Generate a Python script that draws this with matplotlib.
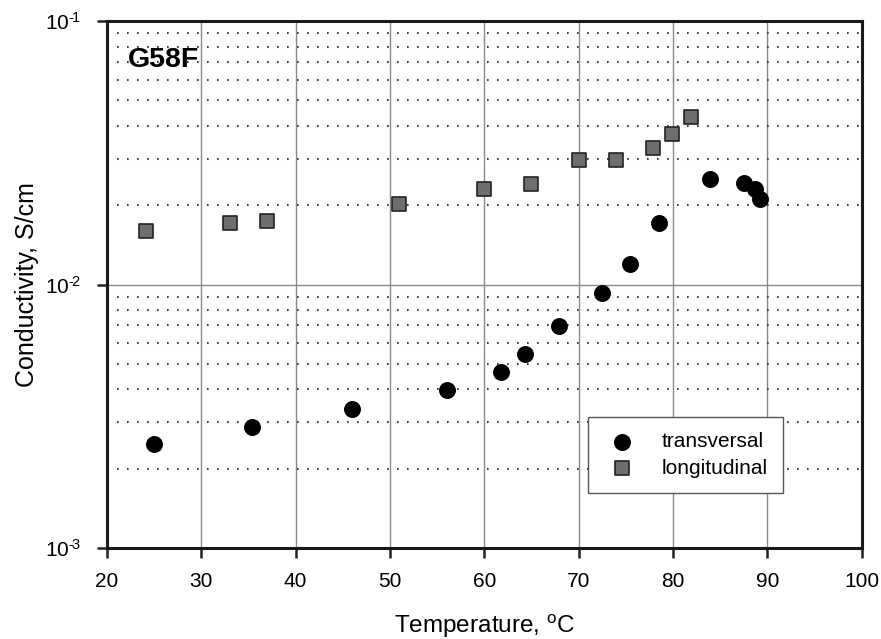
import matplotlib
matplotlib.use("Agg")
import matplotlib.pyplot as plt
from matplotlib.ticker import LogLocator, NullFormatter

plt.rcParams['font.family'] = ['Liberation Sans', 'DejaVu Sans']
plt.rcParams['mathtext.fontset'] = 'custom'
plt.rcParams['mathtext.rm'] = 'Liberation Sans'
plt.rcParams['mathtext.it'] = 'Liberation Sans'

# Data
trans_T = [25.0, 35.4, 46.0, 56.0, 61.8, 64.3, 67.9, 72.5, 75.4, 78.5, 83.9, 87.5, 88.7, 89.2]
trans_sigma = [0.00249, 0.00288, 0.00338, 0.00399, 0.00467, 0.00547, 0.00698, 0.00932,
               0.0120, 0.0171, 0.0251, 0.0242, 0.0230, 0.0211]
long_T = [24.1, 33.0, 37.0, 51.0, 60.0, 65.0, 70.0, 74.0, 77.9, 79.9, 81.9]
long_sigma = [0.0160, 0.0171, 0.0174, 0.0203, 0.0230, 0.0240, 0.0296, 0.0296,
              0.0329, 0.0372, 0.0432]
x_ticks = [20, 30, 40, 50, 60, 70, 80, 90, 100]
y_ticks = [1e-3, 1e-2, 1e-1]
y_ticklabels = ['$10^{\u2010\\!3}$', '$10^{\u2010\\!2}$', '$10^{\u2010\\!1}$']

fig = plt.figure(figsize=(8.81, 6.39), dpi=100)
ax = fig.add_axes([0.1215, 0.1424, 0.8565, 0.8246])

ax.set_yscale('log')
ax.set_xlim(20, 100)
ax.set_ylim(1e-3, 1e-1)

ax.set_xticks(x_ticks)
ax.set_yticks(y_ticks)
ax.set_yticklabels(y_ticklabels)
ax.yaxis.set_minor_locator(LogLocator(base=10, subs=range(2, 10)))
ax.yaxis.set_minor_formatter(NullFormatter())
ax.tick_params(axis='y', which='minor', length=0)
ax.tick_params(axis='both', which='major', direction='out', length=7, width=1.8,
               labelsize=15, color='#222222')
ax.tick_params(axis='x', pad=10)
ax.tick_params(axis='y', pad=12)

ax.grid(True, which='major', axis='both', color='#8a8a8a', linewidth=1.0, linestyle='-')
ax.grid(True, which='minor', axis='y', color='#444444', linewidth=1.5, linestyle=(0, (0.8, 4.0)))
ax.set_axisbelow(True)

for s in ax.spines.values():
    s.set_linewidth(2.2)
    s.set_color('#1a1a1a')

ax.scatter(trans_T, trans_sigma, s=125, marker='o', color='black', zorder=3,
           label='transversal')
ax.scatter(long_T, long_sigma, s=95, marker='s', facecolor='#6e6e6e',
           edgecolor='#222222', linewidth=1.2, zorder=3, label='longitudinal')

ax.set_xlabel('Temperature, $^{\\mathrm{o}}$C', fontsize=17.5, labelpad=16)
ax.set_ylabel('Conductivity, S/cm', fontsize=18, labelpad=4)

ax.text(0.028, 0.95, 'G58F', transform=ax.transAxes, fontsize=20.5, fontweight='bold',
        va='top', ha='left')

leg = ax.legend(loc='lower left', bbox_to_anchor=(0.637, 0.104), fontsize=15,
                frameon=True, fancybox=False, framealpha=1, edgecolor='#555555',
                borderpad=0.75, handletextpad=1.0, labelspacing=0.35, borderaxespad=0,
                handlelength=1.8)
leg.get_frame().set_linewidth(1.0)

fig.savefig('out.png', dpi=100)
